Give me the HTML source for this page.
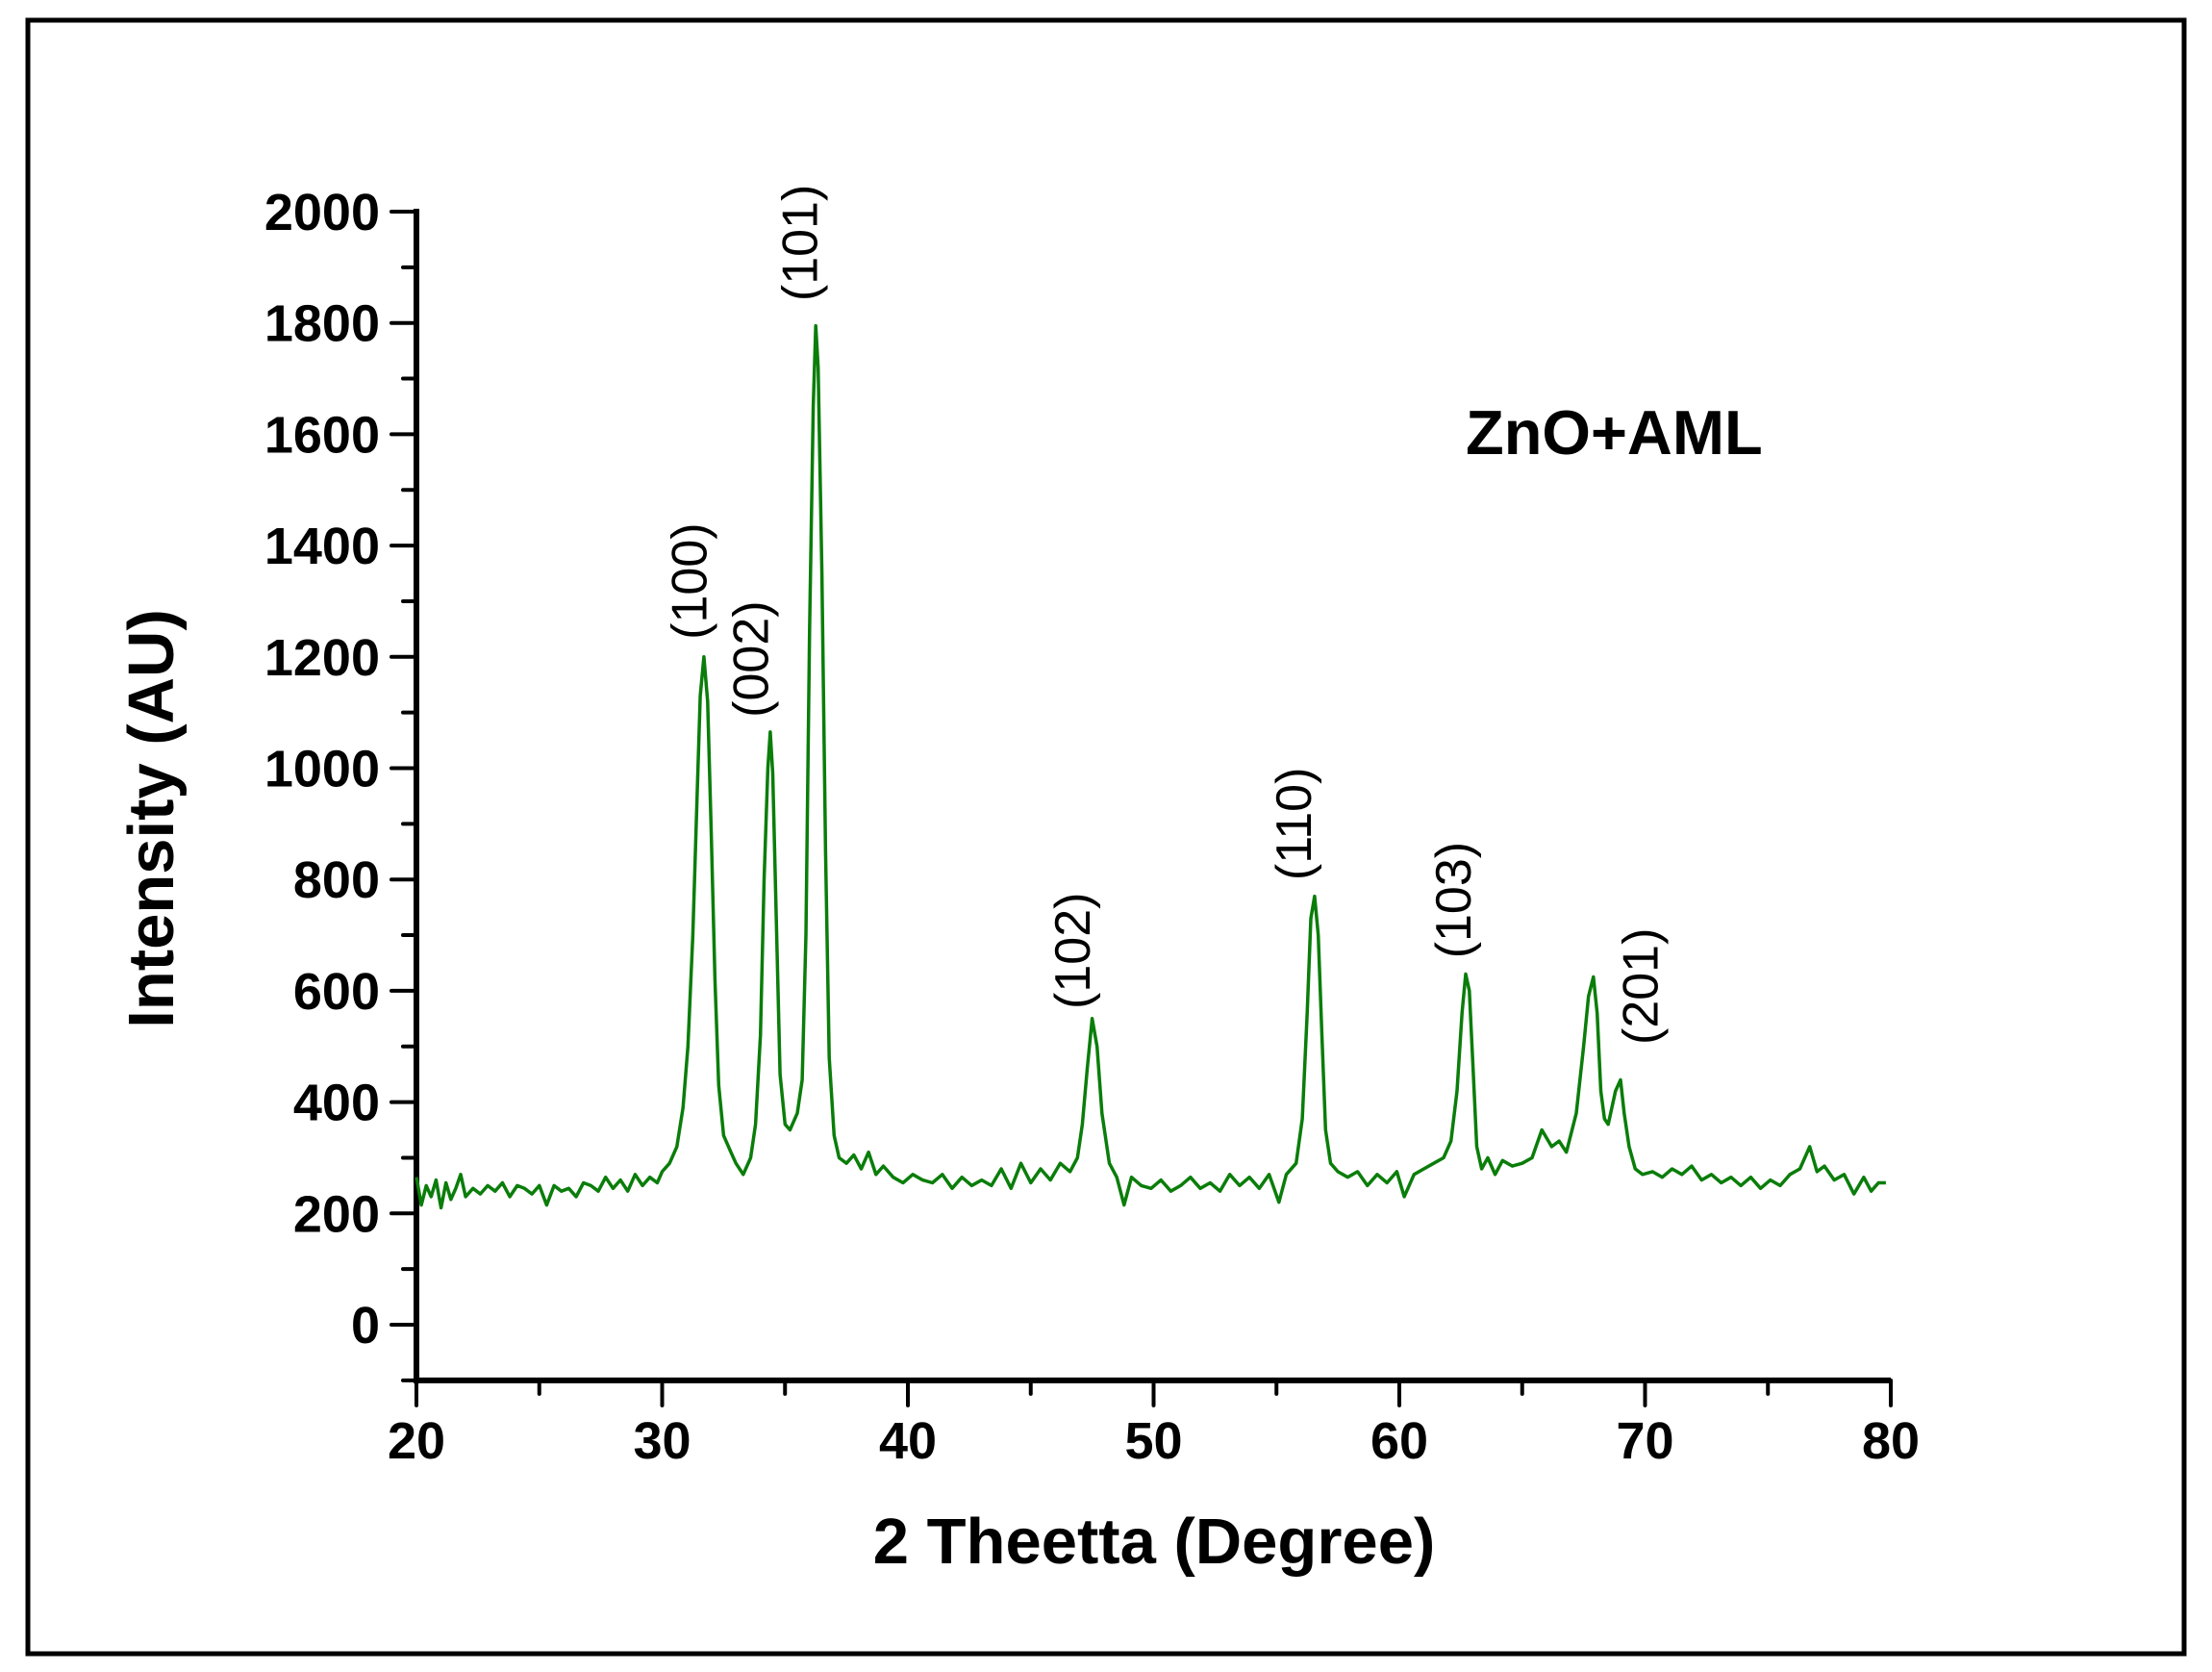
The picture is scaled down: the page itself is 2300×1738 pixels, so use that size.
<!DOCTYPE html>
<html><head><meta charset="utf-8">
<style>
html,body{margin:0;padding:0;background:#fff;}
svg{display:block;}
text{font-family:"Liberation Sans",Arial,sans-serif;}
</style></head>
<body>
<svg id="chart" width="2300" height="1738" viewBox="0 0 2300 1738" xmlns="http://www.w3.org/2000/svg">
<rect x="29" y="21" width="2242" height="1698" fill="#fff" stroke="#000" stroke-width="5"/>
<g id="axes"></g>
<g id="series"></g>
<g id="labels"></g>
<text x="0" y="0" transform="translate(180,851) rotate(-90)" text-anchor="middle" font-weight="bold" font-size="67">Intensity (AU)</text>
<text x="1200" y="1625" text-anchor="middle" font-weight="bold" font-size="67">2 Theetta (Degree)</text>
<text x="1524" y="472" font-weight="bold" font-size="65">ZnO+AML</text>
</svg>
<script>
const xTicks=[20,30,40,50,60,70,80];
const yTicks=[0,200,400,600,800,1000,1200,1400,1600,1800,2000];
const angles=[20.0,20.2,20.4,20.6,20.8,21.0,21.2,21.4,21.6,21.8,22.0,22.3,22.6,22.9,23.2,23.5,23.8,24.1,24.4,24.7,25.0,25.3,25.6,25.9,26.2,26.5,26.8,27.1,27.4,27.7,28.0,28.3,28.6,28.9,29.2,29.5,29.8,30.0,30.3,30.6,30.85,31.05,31.25,31.4,31.55,31.7,31.85,32.0,32.15,32.3,32.5,32.8,33.0,33.3,33.6,33.8,34.0,34.15,34.3,34.4,34.5,34.65,34.8,35.0,35.2,35.5,35.7,35.85,36.0,36.15,36.25,36.35,36.5,36.65,36.8,37.0,37.2,37.5,37.8,38.1,38.4,38.7,39.0,39.4,39.8,40.2,40.6,41.0,41.4,41.8,42.2,42.6,43.0,43.4,43.8,44.2,44.6,45.0,45.4,45.8,46.2,46.6,46.9,47.1,47.3,47.5,47.7,47.9,48.2,48.5,48.8,49.1,49.5,49.9,50.3,50.7,51.1,51.5,51.9,52.3,52.7,53.1,53.5,53.9,54.3,54.7,55.1,55.4,55.8,56.05,56.25,56.4,56.55,56.7,56.85,57.0,57.2,57.5,57.9,58.3,58.7,59.1,59.5,59.9,60.2,60.6,61.0,61.4,61.8,62.1,62.35,62.55,62.7,62.85,63.0,63.15,63.35,63.6,63.9,64.2,64.6,65.0,65.4,65.8,66.2,66.5,66.8,67.2,67.5,67.7,67.9,68.05,68.2,68.35,68.5,68.8,69.0,69.15,69.35,69.6,69.9,70.3,70.7,71.1,71.5,71.9,72.3,72.7,73.1,73.5,73.9,74.3,74.7,75.1,75.5,75.9,76.3,76.7,77.0,77.3,77.7,78.1,78.5,78.9,79.2,79.5,79.8,80.0];
const intensity=[265,215,250,230,260,210,255,225,245,270,230,245,235,250,240,255,230,250,245,235,250,215,250,240,245,230,255,250,240,265,245,260,240,270,250,265,255,275,290,320,390,500,700,920,1130,1200,1120,880,620,430,340,310,290,270,300,360,520,800,1000,1065,990,720,450,360,350,380,440,700,1250,1650,1795,1720,1350,850,480,340,300,290,305,280,310,270,285,265,255,270,260,255,270,245,265,250,260,250,280,245,290,255,280,260,290,275,300,360,460,550,500,380,290,265,215,265,250,245,260,240,250,265,245,255,240,270,250,265,245,270,220,270,290,370,560,730,770,700,520,350,290,275,265,275,250,270,255,275,230,270,280,290,300,330,420,560,630,600,460,320,280,300,270,295,285,290,300,350,320,330,310,380,500,590,625,560,420,370,360,420,440,380,320,280,270,275,265,280,270,285,260,270,255,265,250,265,245,260,250,270,280,320,275,285,260,270,235,265,240,255,255];
const peakNames=["(100)","(002)","(101)","(102)","(110)","(103)","(201)"];
const peakX=[31.1,33.6,35.6,46.7,55.7,62.2,69.8];
const peakY=[1336,1196,1944,672,900,763,608];

const NS="http://www.w3.org/2000/svg";
const X0=433,X1=1966,Y0=1377,Y2000=220;
const sx=v=>X0+(v-20)/60*(X1-X0);
const sy=v=>Y0+(Y2000-Y0)*v/2000;
const yBottom=sy(-100);
function mk(tag,attrs,parent){const e=document.createElementNS(NS,tag);for(const k in attrs)e.setAttribute(k,attrs[k]);parent.appendChild(e);return e;}
const axes=document.getElementById('axes');
let l=mk('line',{x1:X0,y1:Y2000-3,x2:X0,y2:yBottom+3,stroke:'#000','stroke-width':6},axes);


l=mk('line',{x1:X0-3,y1:yBottom,x2:X1,y2:yBottom,stroke:'#000','stroke-width':6},axes);


for(let v=-100;v<=2000;v+=100){
  const major=(v%200===0);
  const t=mk('line',{x1:X0-(major?26:14),y1:sy(v),x2:X0,y2:sy(v),stroke:'#000','stroke-width':4,'stroke-linecap':'round'},axes);
  
  
}
yTicks.forEach(v=>{
  const t=mk('text',{x:395,y:sy(v)+19,'text-anchor':'end','font-weight':'bold','font-size':54},axes);
  t.textContent=v;
  
  
});
for(let v=20;v<=80;v+=5){
  const major=(v%10===0);
  const t=mk('line',{x1:sx(v),y1:yBottom,x2:sx(v),y2:yBottom+(major?26:14),stroke:'#000','stroke-width':4,'stroke-linecap':'round'},axes);
  
  
}
xTicks.forEach(v=>{
  const t=mk('text',{x:sx(v),y:1516,'text-anchor':'middle','font-weight':'bold','font-size':54},axes);
  t.textContent=v;
  
  
});
const pts=angles.map((a,i)=>sx(a).toFixed(1)+','+sy(intensity[i]).toFixed(1)).join(' ');
const line=mk('polyline',{points:pts,fill:'none',stroke:'#0a7d0a','stroke-width':3.5,'stroke-linejoin':'round'},document.getElementById('series'));


const lab=document.getElementById('labels');
peakNames.forEach((n,i)=>{
  const x=sx(peakX[i]),y=sy(peakY[i]);
  const t=mk('text',{x:0,y:0,transform:`translate(${x+18},${y}) rotate(-90)`,'text-anchor':'middle','font-size':52},lab);
  t.textContent=n;
  
  
});
</script>
</body></html>
